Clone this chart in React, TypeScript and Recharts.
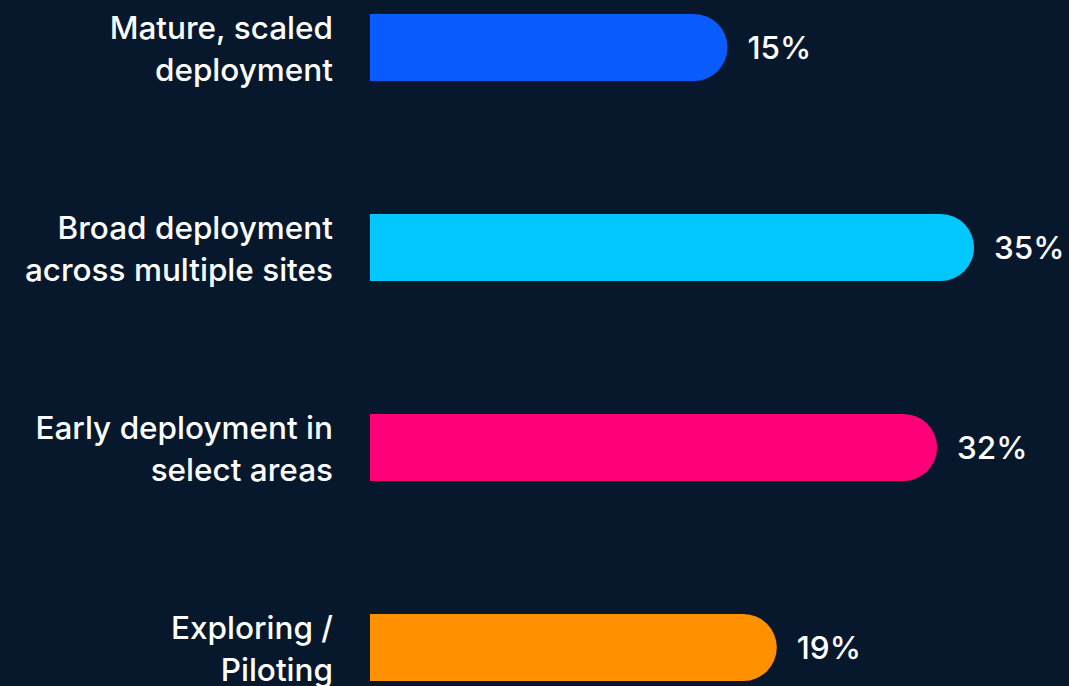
import { FC } from "react";
import { Bar, BarChart, Cell, LabelList, XAxis, YAxis } from "recharts";

const categories = [
  "Mature, scaled deployment",
  "Broad deployment across multiple sites",
  "Early deployment in select areas",
  "Exploring / Piloting",
];
const tickLines = [
  ["Mature, scaled", "deployment"],
  ["Broad deployment", "across multiple sites"],
  ["Early deployment in", "select areas"],
  ["Exploring /", "Piloting"],
];
const values = [15, 35, 32, 19];
const colors = ["#0B5CFF", "#02C8FF", "#FF0079", "#FF9000"];

// the bars in the source don't start at zero, the axis is offset
const AXIS_MIN = -14;
const AXIS_MAX = 41;

const data = categories.map((name, i) => ({ name, value: values[i] }));

const FONT = "Inter, 'Open Sans', sans-serif";
const FONT_SIZE = 31.5;

const CategoryTick: FC<any> = ({ x, y, payload }) => {
  const lines = tickLines[payload.index] ?? [payload.value];
  const tx = x - 29;
  return (
    <text
      x={tx}
      y={y}
      textAnchor="end"
      fill="#FFFFFF"
      fontSize={FONT_SIZE}
      fontFamily={FONT}
      fontWeight={500}
    >
      <tspan x={tx} y={y - 8}>
        {lines[0]}
      </tspan>
      {lines[1] && (
        <tspan x={tx} y={y + 34}>
          {lines[1]}
        </tspan>
      )}
    </text>
  );
};

export default function App() {
  return (
    <div
      style={{
        position: "absolute",
        top: 0,
        left: 0,
        width: 1069,
        height: 686,
        overflow: "hidden",
        background: "#07182D",
      }}
    >
      <div style={{ position: "absolute", top: -53, left: 0 }}>
        <BarChart
          width={1069}
          height={800}
          data={data}
          layout="vertical"
          margin={{ top: 0, right: 21, bottom: 0, left: 0 }}
        >
          <XAxis
            type="number"
            hide
            domain={[AXIS_MIN, AXIS_MAX]}
            allowDataOverflow
          />
          <YAxis
            type="category"
            dataKey="name"
            width={370}
            axisLine={false}
            tickLine={false}
            tick={<CategoryTick />}
            interval={0}
          />
          <Bar
            dataKey={(d: any) => [AXIS_MIN, d.value]}
            barSize={67}
            radius={[0, 34, 34, 0]}
            isAnimationActive={false}
          >
            {data.map((d, i) => (
              <Cell key={d.name} fill={colors[i]} />
            ))}
            <LabelList
              dataKey="value"
              position="right"
              offset={20}
              formatter={(v: any) => `${v}%`}
              fill="#FFFFFF"
              fontSize={FONT_SIZE}
              fontFamily={FONT}
              fontWeight={500}
            />
          </Bar>
        </BarChart>
      </div>
    </div>
  );
}
